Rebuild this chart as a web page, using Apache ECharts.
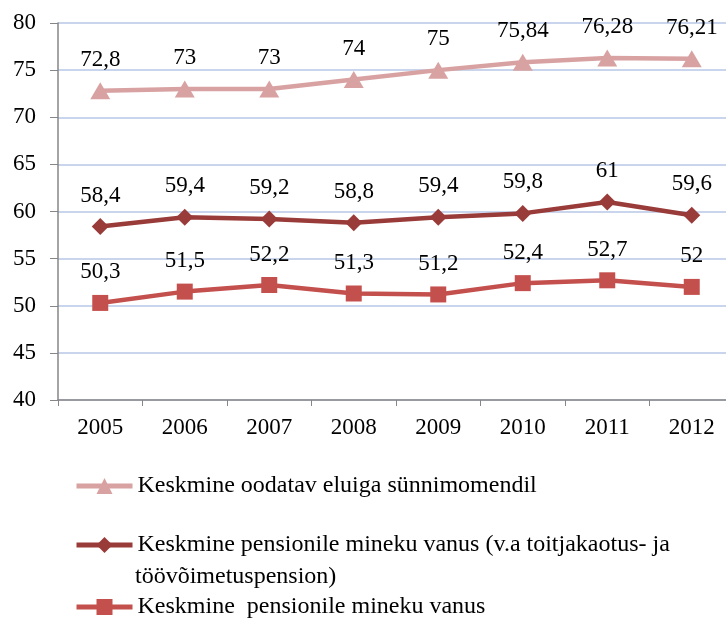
<!DOCTYPE html>
<html>
<head>
<meta charset="utf-8">
<script src="https://cdn.jsdelivr.net/npm/echarts@6/dist/echarts.min.js"></script>
<style>
  html, body { margin: 0; padding: 0; background: #fff; }
  #main { width: 726px; height: 619px; }
</style>
</head>
<body>
<div id="main"></div>
<script>
const years = ['2005', '2006', '2007', '2008', '2009', '2010', '2011', '2012'];
const lifeExp = [72.8, 73, 73, 74, 75, 75.84, 76.28, 76.21];
const pensionAgeExcl = [58.4, 59.4, 59.2, 58.8, 59.4, 59.8, 61, 59.6];
const pensionAge = [50.3, 51.5, 52.2, 51.3, 51.2, 52.4, 52.7, 52];
const yTicks = [40, 45, 50, 55, 60, 65, 70, 75, 80];

const names = [
  'Keskmine oodatav eluiga sünnimomendil',
  'Keskmine pensionile mineku vanus (v.a toitjakaotus- ja töövõimetuspension)',
  'Keskmine  pensionile mineku vanus'
];

const font = '"Liberation Serif", "DejaVu Serif", serif';
const fs = 23;
const legendFs = 24;
var chart = echarts.init(document.getElementById('main'));

const comma = (p) => String(p.value).replace('.', ',');

const mkSeries = (name, data, color, symbol, size) => ({
  name: name,
  type: 'line',
  data: data,
  symbol: symbol,
  symbolSize: size,
  lineStyle: { color: color, width: 4.5 },
  itemStyle: { color: color },
  label: {
    show: true,
    position: 'top',
    distance: 11,
    color: '#000',
    fontFamily: font,
    fontSize: fs,
    formatter: comma,
  },
});

const mkLegend = (name, top) => ({
  data: [name],
  left: 74,
  top: top,
  itemWidth: 56,
  itemHeight: 20,
  padding: 0,
  lineStyle: { width: 5 },
  textStyle: { color: '#000', fontFamily: font, fontSize: legendFs },
  // second line of the long name is drawn as a graphic below
  formatter: (n) => n === names[1] ? 'Keskmine pensionile mineku vanus (v.a toitjakaotus- ja' : n,
});

chart.setOption({
  animation: false,
  backgroundColor: '#fff',
  grid: { left: 58, top: 23, width: 676, bottom: 219, outerBoundsMode: 'none' },
  legend: [
    mkLegend(names[0], 474),
    mkLegend(names[1], 533),
    mkLegend(names[2], 595),
  ],
  graphic: [
    {
      type: 'text',
      left: 135,
      top: 565,
      style: { text: 'töövõimetuspension)', fill: '#000', font: legendFs + 'px ' + font },
    },
  ],
  xAxis: {
    type: 'category',
    data: years,
    boundaryGap: true,
    axisLine: { lineStyle: { color: '#868686', width: 1.5 } },
    axisTick: { show: true, length: 6, lineStyle: { color: '#868686' } },
    axisLabel: { color: '#000', fontFamily: font, fontSize: fs, margin: 16 },
    splitLine: { show: false },
  },
  yAxis: {
    type: 'value',
    min: yTicks[0],
    max: yTicks[yTicks.length - 1],
    interval: 5,
    axisLine: { show: true, lineStyle: { color: '#868686', width: 1.5 } },
    axisTick: { show: true, length: 8, lineStyle: { color: '#868686' } },
    axisLabel: { color: '#000', fontFamily: font, fontSize: fs, margin: 22 },
    splitLine: { lineStyle: { color: '#C8D5EC', width: 2 } },
  },
  series: [
    mkSeries(names[0], lifeExp, '#D9A2A2', 'triangle', [20, 17]),
    mkSeries(names[1], pensionAgeExcl, '#993B39', 'diamond', 17),
    mkSeries(names[2], pensionAge, '#C4504D', 'rect', 16),
  ],
});
</script>
</body>
</html>
